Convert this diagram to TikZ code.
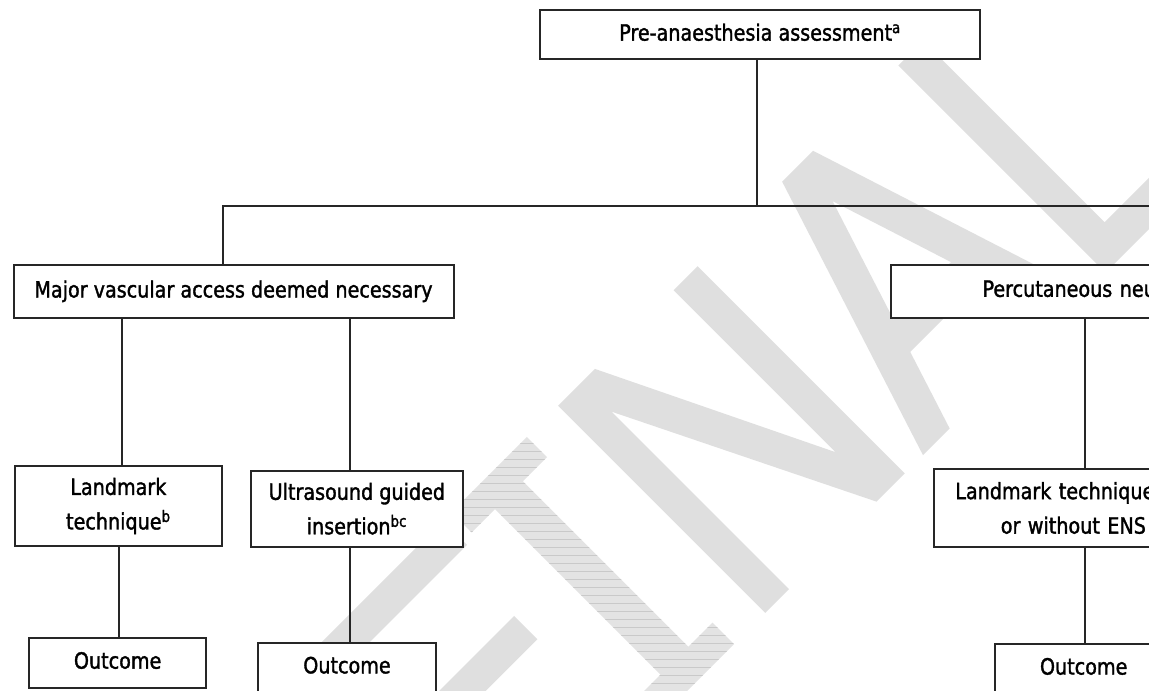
\documentclass[tikz,border=0pt]{standalone}
\usepackage{fontspec}
\newfontfamily\boxfont{DejaVu Sans}[FakeStretch=0.855, FakeBold=1.5]
\begin{document}
\begin{tikzpicture}[x=1pt,y=1pt]
\tikzset{
  wm/.style={fill=gray!25},
  bx/.style={draw=black!85, line width=2pt, fill=white, inner sep=0pt, align=center,
             font=\boxfont\fontsize{22.4}{34.5}\selectfont},
  ln/.style={draw=black!85, line width=2pt},
}
\useasboundingbox (0,0) rectangle (1149,691);
\clip (0,0) rectangle (1149,691);
\fill[white] (0,0) rectangle (1149,691);

% watermark "FINAL"
\begin{scope}[shift={(689.1,1.9)}, rotate=45]
  % F
  \fill[wm] (-250,0) -- (-250,293) -- (-55,293) -- (-55,259) -- (-215,259) -- (-215,175.5)
     -- (-72,175.5) -- (-72,142.5) -- (-215,142.5) -- (-215,0) -- cycle;
  % I (hatched)
  \fill[fill=gray!22] (-43,0) -- (63.6,0) -- (63.6,30.5) -- (29.4,30.5) -- (29.4,264.5) -- (63.6,264.5)
     -- (63.6,293) -- (-43,293) -- (-43,264.5) -- (-10,264.5) -- (-10,30.5) -- (-43,30.5) -- cycle;
  \begin{scope}
    \clip (-43,0) -- (63.6,0) -- (63.6,30.5) -- (29.4,30.5) -- (29.4,264.5) -- (63.6,264.5)
     -- (63.6,293) -- (-43,293) -- (-43,264.5) -- (-10,264.5) -- (-10,30.5) -- (-43,30.5) -- cycle;
    \begin{scope}[reset cm]
      \foreach \k in {-6,...,45} {\draw[gray!42, line width=0.6pt] (350,\k*8) -- (850,\k*8);}
    \end{scope}
  \end{scope}
  % N
  \fill[wm] (107.7,0) -- (107.7,293) -- (159.8,293) -- (271,64.1) -- (271,293) -- (305,293)
     -- (305,0) -- (265.1,0) -- (141.4,250.9) -- (141.4,0) -- cycle;
  % A
  \fill[wm] (330.8,0) -- (424.6,293) -- (468.3,293) -- (562.2,0) -- (524.5,0) -- (446.5,243.6)
     -- (368.5,0) -- cycle;
  \fill[wm] (388,82) rectangle (505,116.7);
  % L
  \fill[wm] (589,0) -- (589,293) -- (624,293) -- (624,36.3) -- (820,36.3) -- (820,0) -- cycle;
\end{scope}

% boxes
\node[bx, minimum width=440pt, minimum height=49.5pt, text depth=5.3pt] (top) at (760,656.25)
  {Pre-anaesthesia assessment\textsuperscript{a}};
\node[bx, minimum width=440pt, minimum height=53.3pt, text depth=5.3pt] (major) at (233.5,399.35)
  {Major vascular access deemed necessary};
\node[bx, minimum width=409pt, minimum height=53.2pt, text width=226pt, inner xsep=91.5pt,
      align=left, text depth=5.3pt] (perc) at (1095.5,399.7) {Percutaneous neu};
\node[bx, minimum width=207.3pt, minimum height=80pt] (land) at (118.35,185)
  {Landmark\\technique\textsuperscript{b}};
\node[bx, minimum width=211.7pt, minimum height=76pt] (us) at (356.85,182.3)
  {Ultrasound guided\\insertion\textsuperscript{bc}};
\node[bx, minimum width=366.2pt, minimum height=77.3pt, text width=323.2pt, inner xsep=21.5pt,
      align=left] (land2) at (1116.9,183)
  {Landmark technique\\\hspace*{45.5pt}or without ENS};
\node[bx, minimum width=176.7pt, minimum height=50pt, text depth=5.3pt] (out1) at (117.65,28) {Outcome};
\node[bx, minimum width=177.4pt, minimum height=50pt, text depth=5.3pt] (out2) at (347,23.3) {Outcome};
\node[bx, minimum width=176.6pt, minimum height=50pt, text depth=5.3pt] (out3) at (1083.7,22.1) {Outcome};

% connector columns
\coordinate (jn) at (756.7,485);
\coordinate (hl) at (223,485);
\coordinate (hr) at (1160,485);
\coordinate (c1) at (122,0);
\coordinate (c2) at (349.5,0);
\coordinate (c3) at (119.4,0);
\coordinate (c4) at (1084.8,0);

\draw[ln] (top.south -| jn) -- (jn);
\draw[ln] (major.north -| hl) -- (hl) -- (hr);
\draw[ln] (major.south -| c1) -- (land.north -| c1);
\draw[ln] (major.south -| c2) -- (us.north -| c2);
\draw[ln] (land.south -| c3) -- (out1.north -| c3);
\draw[ln] (us.south -| c2) -- (out2.north -| c2);
\draw[ln] (perc.south -| c4) -- (land2.north -| c4);
\draw[ln] (land2.south -| c4) -- (out3.north -| c4);
\end{tikzpicture}
\end{document}
